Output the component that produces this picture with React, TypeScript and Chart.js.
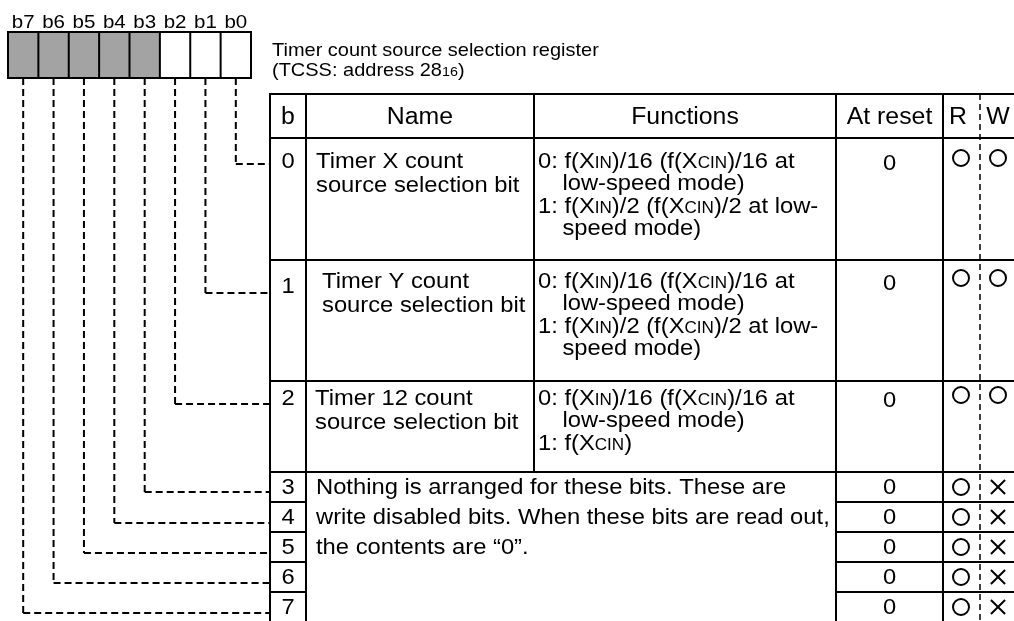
import React, { useEffect, useRef } from "react";
import { Chart, registerables } from "chart.js";
Chart.register(...registerables);

// ---------- data ----------
const bitLabels = ["b7", "b6", "b5", "b4", "b3", "b2", "b1", "b0"];
const bitUnused = [true, true, true, true, true, false, false, false];
const titleLines = ["Timer count source selection register", "(TCSS: address 28_{16})"];
const headers = ["b", "Name", "Functions", "At reset", "R", "W"];
const rowBits = ["0", "1", "2", "3", "4", "5", "6", "7"];
const rowNames = [
  ["Timer X count", "source selection bit"],
  ["Timer Y count", "source selection bit"],
  ["Timer 12 count", "source selection bit"],
];
const rowFunctions = [
  ["0: f(X_{IN})/16 (f(X_{CIN})/16 at", ">low-speed mode)", "1: f(X_{IN})/2 (f(X_{CIN})/2 at low-", ">speed mode)"],
  ["0: f(X_{IN})/16 (f(X_{CIN})/16 at", ">low-speed mode)", "1: f(X_{IN})/2 (f(X_{CIN})/2 at low-", ">speed mode)"],
  ["0: f(X_{IN})/16 (f(X_{CIN})/16 at", ">low-speed mode)", "1: f(X_{CIN})"],
];
const reservedText = [
  "Nothing is arranged for these bits. These are",
  "write disabled bits. When these bits are read out,",
  "the contents are \u201C0\u201D.",
];
const resetValues = ["0", "0", "0", "0", "0", "0", "0", "0"];
const readMarks = ["O", "O", "O", "O", "O", "O", "O", "O"];
const writeMarks = ["O", "O", "O", "X", "X", "X", "X", "X"];

// ---------- layout (chart units) ----------
const W = 1014;
const H = 621;
const REG = { left: 8, right: 251, top: 32, bottom: 78, labelY: 21 };
const TITLE = { x: 272, y: [49, 69] };
const COL = { left: 270, b: 306, name: 534, func: 836, reset: 943, rw: 980, right: 1014 };
const TABLE_TOP = 94;
const HEADER_BOTTOM = 138;
const HEADER_Y = 116;
const ROW_EDGES = [138, 260, 381, 472, 502, 532, 562, 592, 623];
const ROW_TEXT_Y = [160, 280, 397, 486, 516, 546, 576, 606];
const ROW_LABEL_Y = [160, 285, 397, 486, 516, 546, 576, 606];
const ROW_CONNECT_Y = [164, 293, 404, 492, 523, 553, 583, 613];
const NAME_X = [316, 322, 315];
const FUNC_X = 538;
const NAME_GAP = 24;
const FUNC_GAP = 22.5;
const MARK_X = { r: 961, w: 998 };

const FONT = '"Liberation Sans", Arial, Helvetica, sans-serif';
const STRETCH = 1.08;
const SIZE = { body: 22, header: 23, title: 18.5, bits: 19 };

function parseRich(s: string) {
  const out: { t: string; small: boolean }[] = [];
  const re = /_\{([^}]*)\}/g;
  let last = 0;
  let m: RegExpExecArray | null;
  while ((m = re.exec(s))) {
    if (m.index > last) out.push({ t: s.slice(last, m.index), small: false });
    out.push({ t: m[1], small: true });
    last = re.lastIndex;
  }
  if (last < s.length) out.push({ t: s.slice(last), small: false });
  return out;
}

function richWidth(ctx: CanvasRenderingContext2D, s: string, size: number) {
  let w = 0;
  for (const seg of parseRich(s)) {
    ctx.font = `${seg.small ? size * 0.72 : size}px ${FONT}`;
    w += ctx.measureText(seg.t).width * STRETCH;
  }
  return w;
}

function drawRich(ctx: CanvasRenderingContext2D, s: string, x: number, y: number, size: number, align: string) {
  const w = richWidth(ctx, s, size);
  let cx = align === "center" ? x - w / 2 : align === "right" ? x - w : x;
  const base = y + size * 0.36;
  ctx.textBaseline = "alphabetic";
  ctx.textAlign = "left";
  ctx.fillStyle = "#000";
  for (const seg of parseRich(s)) {
    ctx.font = `${seg.small ? size * 0.72 : size}px ${FONT}`;
    ctx.save();
    ctx.translate(cx, base);
    ctx.scale(STRETCH, 1);
    ctx.fillText(seg.t, 0, 0);
    ctx.restore();
    cx += ctx.measureText(seg.t).width * STRETCH;
  }
}

const diagramPlugin = {
  id: "registerDiagram",
  beforeDatasetsDraw(chart: any) {
    const ctx: CanvasRenderingContext2D = chart.ctx;
    const sx = chart.scales.x;
    const sy = chart.scales.y;
    const px = (v: number) => sx.getPixelForValue(v);
    const py = (v: number) => sy.getPixelForValue(v);
    const line = (x1: number, y1: number, x2: number, y2: number, lw = 2, dash: number[] = []) => {
      ctx.save();
      ctx.beginPath();
      ctx.strokeStyle = "#000";
      ctx.lineWidth = lw;
      ctx.setLineDash(dash);
      ctx.moveTo(px(x1), py(y1));
      ctx.lineTo(px(x2), py(y2));
      ctx.stroke();
      ctx.restore();
    };

    ctx.save();
    ctx.fillStyle = "#fff";
    ctx.fillRect(0, 0, chart.width, chart.height);
    ctx.restore();

    // register bit boxes
    const n = bitLabels.length;
    const cw = (REG.right - REG.left) / n;
    bitLabels.forEach((lab, i) => {
      const x0 = REG.left + i * cw;
      if (bitUnused[i]) {
        ctx.fillStyle = "#a3a3a3";
        ctx.fillRect(px(x0), py(REG.top), px(x0 + cw) - px(x0), py(REG.bottom) - py(REG.top));
      }
      drawRich(ctx, lab, px(x0 + cw / 2), py(REG.labelY), SIZE.bits, "center");
    });
    ctx.save();
    ctx.strokeStyle = "#000";
    ctx.lineWidth = 2;
    ctx.strokeRect(px(REG.left), py(REG.top), px(REG.right) - px(REG.left), py(REG.bottom) - py(REG.top));
    ctx.restore();
    for (let i = 1; i < n; i++) line(REG.left + i * cw, REG.top, REG.left + i * cw, REG.bottom);

    // title
    titleLines.forEach((t, i) => drawRich(ctx, t, px(TITLE.x), py(TITLE.y[i]), SIZE.title, "left"));

    // dashed connectors: bit b(7-i) -> row (7-i)
    const dash = [7, 4];
    bitLabels.forEach((_, i) => {
      const row = n - 1 - i;
      const xc = REG.left + i * cw + cw / 2;
      const yc = ROW_CONNECT_Y[row];
      line(xc, REG.bottom, xc, yc, 2, dash);
      line(xc, yc, COL.left, yc, 2, dash);
    });

    // table grid
    line(COL.left, TABLE_TOP, COL.right, TABLE_TOP);
    line(COL.left, HEADER_BOTTOM, COL.right, HEADER_BOTTOM);
    ROW_EDGES.forEach((y, k) => {
      if (k === 0 || y >= H) return;
      if (k <= 3) line(COL.left, y, COL.right, y);
      else {
        line(COL.left, y, COL.b, y);
        line(COL.func, y, COL.right, y);
      }
    });
    const bottom = ROW_EDGES[ROW_EDGES.length - 1];
    line(COL.left, TABLE_TOP - 1, COL.left, bottom);
    line(COL.b, TABLE_TOP - 1, COL.b, bottom);
    line(COL.name, TABLE_TOP - 1, COL.name, ROW_EDGES[3] + 1);
    line(COL.func, TABLE_TOP - 1, COL.func, bottom);
    line(COL.reset, TABLE_TOP - 1, COL.reset, bottom);
    line(COL.rw, TABLE_TOP, COL.rw, bottom, 1.5, [6, 4]);

    // headers
    const hx = [(COL.left + COL.b) / 2, (COL.b + COL.name) / 2, (COL.name + COL.func) / 2, (COL.func + COL.reset) / 2, MARK_X.r - 3, MARK_X.w];
    headers.forEach((h, i) => drawRich(ctx, h, px(hx[i]), py(HEADER_Y), SIZE.header, "center"));

    // rows
    rowBits.forEach((b, r) => {
      drawRich(ctx, b, px((COL.left + COL.b) / 2), py(ROW_LABEL_Y[r]), SIZE.body, "center");
      drawRich(ctx, resetValues[r], px((COL.func + COL.reset) / 2), py(ROW_TEXT_Y[r] + (r < 3 ? 2 : 0)), SIZE.body, "center");
    });
    rowNames.forEach((lines, r) => {
      lines.forEach((t, k) => drawRich(ctx, t, px(NAME_X[r]), py(ROW_TEXT_Y[r] + k * NAME_GAP), SIZE.body, "left"));
    });
    const indent = richWidth(ctx, "0: ", SIZE.body) - 2;
    rowFunctions.forEach((lines, r) => {
      lines.forEach((t, k) => {
        const cont = t.startsWith(">");
        const txt = cont ? t.slice(1) : t;
        drawRich(ctx, txt, px(FUNC_X + (cont ? indent : 0)), py(ROW_TEXT_Y[r] + k * FUNC_GAP), SIZE.body, "left");
      });
    });
    reservedText.forEach((t, k) => drawRich(ctx, t, px(NAME_X[0]), py(ROW_TEXT_Y[3 + k]), SIZE.body, "left"));
  },
};

const markY = (r: number) => (r < 3 ? ROW_TEXT_Y[r] - 2 : ROW_TEXT_Y[r] + 1);
const markStyle = (m: string) => (m === "X" ? "crossRot" : "circle");
const markRadius = (m: string) => (m === "X" ? 10 : 8);

export default function App() {
  const ref = useRef<HTMLCanvasElement>(null);
  useEffect(() => {
    const chart = new Chart(ref.current as HTMLCanvasElement, {
      type: "scatter",
      data: {
        datasets: [
          {
            label: "R",
            data: readMarks.map((_, r) => ({ x: MARK_X.r, y: markY(r) })),
            pointStyle: readMarks.map(markStyle) as any,
            pointRadius: readMarks.map(markRadius),
            borderColor: "#000",
            backgroundColor: "rgba(0,0,0,0)",
            borderWidth: 2,
            clip: false,
          },
          {
            label: "W",
            data: writeMarks.map((_, r) => ({ x: MARK_X.w, y: markY(r) })),
            pointStyle: writeMarks.map(markStyle) as any,
            pointRadius: writeMarks.map(markRadius),
            borderColor: "#000",
            backgroundColor: "rgba(0,0,0,0)",
            borderWidth: 2,
            clip: false,
          },
        ],
      },
      options: {
        animation: false,
        responsive: false,
        devicePixelRatio: 1,
        layout: { padding: 0, autoPadding: false },
        events: [],
        plugins: { legend: { display: false }, tooltip: { enabled: false } },
        scales: {
          x: { type: "linear", min: 0, max: W, display: false },
          y: { type: "linear", min: 0, max: H, reverse: true, display: false },
        },
      },
      plugins: [diagramPlugin],
    });
    return () => chart.destroy();
  }, []);
  return (
    <div style={{ position: "absolute", left: 0, top: 0, width: W, height: H, background: "#fff" }}>
      <canvas ref={ref} width={W} height={H} style={{ display: "block", width: W, height: H }} />
    </div>
  );
}
